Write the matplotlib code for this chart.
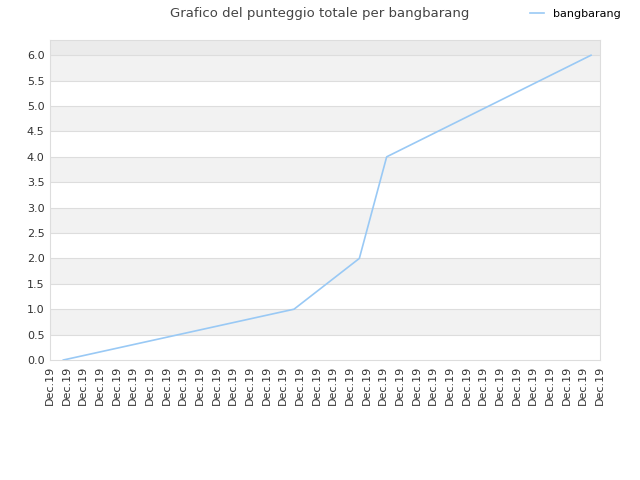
import matplotlib
matplotlib.use("Agg")
import matplotlib.pyplot as plt

# data
n_ticks = 34
tick_labels = ["Dec.19"] * n_ticks
x_vals = [0.8, 14.64, 18.56, 20.2, 32.46]
scores = [0.0, 1.0, 2.0, 4.0, 6.0]
player = "bangbarang"

fig = plt.figure(figsize=(6.4, 4.8), dpi=100)
ax = fig.add_axes([50 / 640, 1 - 360 / 480, 550 / 640, 320 / 480])

ymax = 6.3
# alternating bands
for i in range(12):
    lo = i * 0.5
    if i % 2 == 1:
        ax.axhspan(lo, lo + 0.5, color="#f2f2f2", zorder=0, lw=0)
ax.axhspan(6.0, ymax, color="#ebebeb", zorder=0, lw=0)
for i in range(1, 13):
    ax.axhline(i * 0.5, color="#dddddd", lw=0.8, zorder=1)

ax.plot(x_vals, scores, color="#99c9f5", lw=1.2, label=player, zorder=3)

ax.set_xlim(0, n_ticks - 1)
ax.set_ylim(0, ymax)
ax.set_xticks(range(n_ticks))
ax.set_xticklabels(tick_labels, rotation=90, fontsize=8, color="#333333")
ax.set_yticks([i * 0.5 for i in range(13)])
ax.set_yticklabels([f"{i * 0.5:.1f}" for i in range(13)], fontsize=8, color="#333333")
ax.tick_params(length=0, pad=4)
for s in ax.spines.values():
    s.set_color("#dddddd")

fig.text(0.5, 1 - 13 / 480, "Grafico del punteggio totale per bangbarang",
         ha="center", va="center", fontsize=9.5, color="#444444")
fig.legend(loc="center right", bbox_to_anchor=(0.985, 1 - 14 / 480), frameon=False,
           fontsize=8, handlelength=1.2)

fig.savefig("out.png", dpi=100)
